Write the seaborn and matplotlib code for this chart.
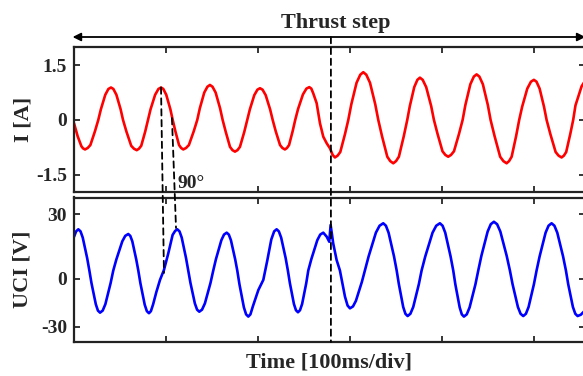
import matplotlib
matplotlib.use("Agg")
import matplotlib.pyplot as plt
from matplotlib.patches import ConnectionPatch
import seaborn as sns
import pandas as pd

# ---- data (time in ms) ----
i_time = [0, 4, 8, 12.0, 17.8, 22.8, 26.4, 29.2, 34.0, 40.2, 46.1, 50.7, 53.3, 57.0, 62.2, 68.2,
          73.1, 77.4, 80.4, 83.2, 88.2, 94.6, 100.3, 104.8, 107.3, 110.2, 114.2, 118.8,
          124.9, 130.2, 134.0, 136.8, 141.6, 147.8, 154.0, 158.8, 161.6, 165.0, 169.6, 175.0,
          180.4, 185.1, 188.4, 191.2, 196.0, 202.2, 208.4, 213.2, 216.0, 219.3, 224.0, 229.3,
          233.8, 237.7, 240.5, 243.6, 248.9, 255.8, 260.1, 263.8, 267.4, 271.0, 274.7, 278.3, 283.7,
          289.5, 294.6, 298.2, 301.5, 307.2, 314.5, 321.8, 327.5, 330.8, 334.9, 340.6, 347.1,
          353.2, 358.5, 362.3, 365.1, 369.9, 376.1, 382.9, 388.3, 391.3, 395.2, 400.6, 406.8,
          413.1, 418.6, 422.5, 425.5, 430.9, 437.7, 444.5, 449.9, 452.9, 457.3, 463.3, 470.3,
          475.8, 480.6, 484.0, 487.2, 492.8, 500.0, 506.2, 511.0, 513.8, 517.9, 523.6, 530.1,
          535.1, 539.5, 542.7, 545.2, 551.8, 555.0]
i_value = [-0.09, -0.45, -0.72, -0.81, -0.69, -0.31, 0.0, 0.29, 0.69, 0.89, 0.69, 0.29, 0.0, -0.32, -0.71, -0.83,
           -0.71, -0.32, 0.0, 0.29, 0.69, 0.89, 0.69, 0.29, 0.0, -0.31, -0.69, -0.81,
           -0.69, -0.31, 0.0, 0.32, 0.75, 0.96, 0.75, 0.32, 0.0, -0.33, -0.74, -0.87,
           -0.74, -0.33, 0.0, 0.29, 0.68, 0.87, 0.68, 0.29, 0.0, -0.31, -0.69, -0.81,
           -0.69, -0.31, 0.0, 0.30, 0.70, 0.90, 0.73, 0.46, -0.09, -0.46, -0.64, -0.78, -1.03,
           -0.88, -0.39, 0.0, 0.43, 1.02, 1.31, 1.02, 0.43, 0.0, -0.45, -1.01, -1.19,
           -1.01, -0.45, 0.0, 0.38, 0.90, 1.16, 0.90, 0.38, 0.0, -0.38, -0.86, -1.01,
           -0.86, -0.38, 0.0, 0.41, 0.98, 1.25, 0.98, 0.41, 0.0, -0.45, -1.01, -1.19,
           -1.01, -0.45, 0.0, 0.36, 0.86, 1.10, 0.86, 0.36, 0.0, -0.39, -0.88, -1.03,
           -0.88, -0.39, 0.0, 0.40, 0.92, 1.05]
# extra readings close to each crest / trough of the current trace
i_crest_time = [9.8, 14.9, 37.4, 42.8, 65.2, 70.6, 91.8, 97.1, 116.5, 121.8, 145.0, 150.6,
                172.3, 177.7, 199.4, 205.0, 226.6, 231.5, 252.7, 258.0, 281.2, 286.6,
                311.2, 317.8, 343.8, 350.1, 373.3, 379.1, 403.7, 409.9, 434.7, 440.7,
                466.8, 473.0, 496.8, 502.8, 526.8, 532.6]
i_crest_value = [-0.78, -0.77, 0.85, 0.85, -0.79, -0.79, 0.85, 0.85, -0.77, -0.77, 0.91, 0.91,
                 -0.83, -0.83, 0.83, 0.83, -0.77, -0.77, 0.86, 0.86, -0.96, -0.98,
                 1.24, 1.24, -1.13, -1.13, 1.10, 1.10, -0.96, -0.96, 1.19, 1.19,
                 -1.13, -1.13, 1.05, 1.05, -0.98, -0.98]

u_time = [0, 4.7, 9.5, 14.3, 16.7, 19.0, 23.7, 28.3, 34.1, 39.8, 42.7, 46.0, 52.5, 59.0,
          63.4, 67.7, 69.9, 72.2, 76.9, 81.5, 86.0, 89.5, 93.5, 97.8, 102.5, 107.2, 112.3,
          117.1, 121.8, 124.2, 126.6, 131.4, 136.2, 142.3, 148.4, 151.4, 154.3, 160.2, 166.0,
          170.6, 175.2, 177.5, 179.9, 184.7, 189.5, 194.5, 200.4, 205.8, 210.0, 214.5, 220.3,
          225.2, 230.1, 232.5, 234.7, 239.1, 243.5, 248.0, 252.5, 254.7, 258.0, 264.5, 271.0,
          274.7, 277.5, 279.0, 281.8, 285.5, 289.1, 294.6, 300.0, 306.5, 313.0, 316.3, 320.3, 328.2, 336.2,
          342.0, 347.9, 350.8, 353.2, 357.9, 362.7, 368.8, 374.9, 377.9, 381.9, 389.8, 397.8,
          403.6, 409.4, 412.3, 414.6, 419.3, 423.9, 430.1, 436.4, 439.5, 442.9, 449.7, 456.5,
          463.5, 470.4, 473.9, 476.8, 482.6, 488.4, 494.2, 500.0, 502.9, 506.2, 512.7, 519.2,
          525.4, 531.7, 534.8, 537.3, 542.4, 547.5, 551.0, 555.0]
u_value = [17.9, 21.9, 17.5, 6.6, 0.0, -6.7, -17.9, -22.4, -17.9, -6.7, 0.0, 5.8, 15.5, 19.4,
           15.5, 5.8, 0.0, -6.8, -18.2, -22.7, -18.0, -11.5, -5.0, 0.3, 9.1, 18.9, 21.9,
           17.5, 6.6, 0.0, -6.6, -17.5, -21.9, -17.5, -6.6, 0.0, 6.0, 16.1, 20.1,
           16.1, 6.0, 0.0, -7.4, -19.6, -24.5, -19.0, -10.4, -5.0, 5.0, 16.5, 21.9,
           17.5, 6.6, 0.0, -6.7, -17.8, -22.2, -17.8, -6.7, 0.0, 6.0, 16.1, 20.1,
           18.0, 15.3, 24.2, 14.4, 5.6, 0.0, -13.9, -20.1, -16.1, -6.0, 0.0, 7.5, 20.1, 25.1,
           20.1, 7.5, 0.0, -7.3, -19.4, -24.2, -19.4, -7.3, 0.0, 7.5, 20.1, 25.1,
           20.1, 7.5, 0.0, -7.4, -19.6, -24.5, -19.6, -7.4, 0.0, 7.8, 20.7, 25.9,
           20.7, 7.8, 0.0, -7.3, -19.4, -24.2, -19.4, -7.3, 0.0, 7.5, 20.1, 25.1,
           20.1, 7.5, 0.0, -7.3, -19.4, -24.2, -23.5, -21.5]
# extra readings close to each crest / trough of the voltage trace
u_crest_time = [2.3, 7.1, 26.0, 31.2, 55.7, 61.2, 79.2, 83.6, 109.9, 114.7, 133.8, 139.2,
                163.1, 168.3, 187.1, 191.8, 217.6, 222.7, 241.3, 245.7, 267.7, 297.4, 303.3,
                332.2, 339.1, 360.3, 365.7, 393.8, 400.7, 421.6, 427.0, 453.1, 460.0,
                485.5, 491.3, 515.9, 522.3, 545.0]
u_crest_value = [20.8, 20.8, -21.3, -21.3, 18.4, 18.4, -21.6, -21.6, 21.0, 20.8, -20.8, -20.8,
                 19.1, 19.1, -23.3, -23.3, 20.8, 20.8, -21.1, -21.1, 19.1, -18.6, -19.1,
                 23.8, 23.8, -23.0, -23.0, 23.8, 23.8, -23.3, -23.3, 24.6, 24.6,
                 -23.0, -23.0, 23.8, 23.8, -23.0]

i_ticks = [-1.5, 0, 1.5]
i_ticklabels = ["-1.5", "0", "1.5"]
u_ticks = [-30, -4.5, 30]
u_ticklabels = ["-30", "0", "30"]
step_time = 279.3
phase_top = [(94.6, 0.89), (106.5, 0.05)]
phase_bottom = [(97.8, -1.3), (110.9, 22.6)]

sns.set_style("ticks")
plt.rcParams["font.family"] = ["Liberation Serif", "DejaVu Serif"]
plt.rcParams["font.weight"] = "bold"
plt.rcParams["axes.labelweight"] = "bold"

fig = plt.figure(figsize=(5.83, 3.76), dpi=100)
left = 74 / 583
width = (584.5 - 74) / 583
ax1 = fig.add_axes([left, 1 - 191.7 / 376, width, (191.7 - 46.7) / 376])
ax2 = fig.add_axes([left, 1 - 342 / 376, width, (342 - 197.5) / 376])

df_i = pd.DataFrame({"t": i_time + i_crest_time, "v": i_value + i_crest_value})
df_u = pd.DataFrame({"t": u_time + u_crest_time, "v": u_value + u_crest_value})
sns.lineplot(data=df_i, x="t", y="v", ax=ax1, color="#ff0000", linewidth=1.9, sort=True)
sns.lineplot(data=df_u, x="t", y="v", ax=ax2, color="#0000ff", linewidth=1.9, sort=True)

for ax in (ax1, ax2):
    ax.set_xlim(0, 555)
    ax.set_xticks([0, 100, 200, 300, 400, 500])
    ax.set_xticklabels([])
    ax.tick_params(direction="in", length=4, width=1.3, top=True, right=True,
                   labelsize=14, pad=5)
    for s in ax.spines.values():
        s.set_linewidth(1.6)
        s.set_color("#222222")

ax1.set_ylim(-1.97, 2.01)
ax1.set_yticks(i_ticks)
ax1.set_yticklabels(i_ticklabels, fontweight="bold")
ax2.set_ylim(-38.0, 38.8)
ax2.set_yticks(u_ticks)
ax2.set_yticklabels(u_ticklabels, fontweight="bold")

ax1.set_xlabel("")
ax1.set_ylabel("I [A]", fontsize=16, fontweight="bold")
ax2.set_ylabel("UCI [V]", fontsize=16, fontweight="bold")
ax2.set_xlabel("")
fig.text(329 / 583, 1 - 368 / 376, "Time [100ms/div]", ha="center", va="baseline",
         fontsize=16, fontweight="bold")
ax1.yaxis.set_label_coords(-0.080, 0.5)
ax2.yaxis.set_label_coords(-0.082, 0.5)

# thrust-step arrow and text
ytop = (191.7 - 37) / (191.7 - 46.7)
ax1.annotate("", xy=(-1.5, ytop), xytext=(556, ytop),
             xycoords=ax1.get_xaxis_transform(), textcoords=ax1.get_xaxis_transform(),
             arrowprops=dict(arrowstyle="<|-|>", color="black", lw=1.3,
                             mutation_scale=12, shrinkA=0, shrinkB=0),
             annotation_clip=False)
fig.text(336 / 583, 1 - 28 / 376, "Thrust step", ha="center", va="baseline",
         fontsize=16, fontweight="bold")

# step dashed line across both panels
cp = ConnectionPatch(xyA=(step_time, ytop), coordsA=ax1.get_xaxis_transform(),
                     xyB=(step_time, 0), coordsB=ax2.get_xaxis_transform(),
                     linestyle=(0, (3.5, 2.5)), color="black", lw=1.3)
fig.add_artist(cp)

# 90 degree phase lines
for (ta, va), (tb, vb) in zip(phase_top, phase_bottom):
    c = ConnectionPatch(xyA=(ta, va), coordsA=ax1.transData,
                        xyB=(tb, vb), coordsB=ax2.transData,
                        linestyle=(0, (3.5, 2.5)), color="black", lw=1.3)
    fig.add_artist(c)
ax1.text(113, -1.87, "90°", fontsize=14, fontweight="bold", va="baseline", ha="left")

fig.savefig("out.png", dpi=100)
